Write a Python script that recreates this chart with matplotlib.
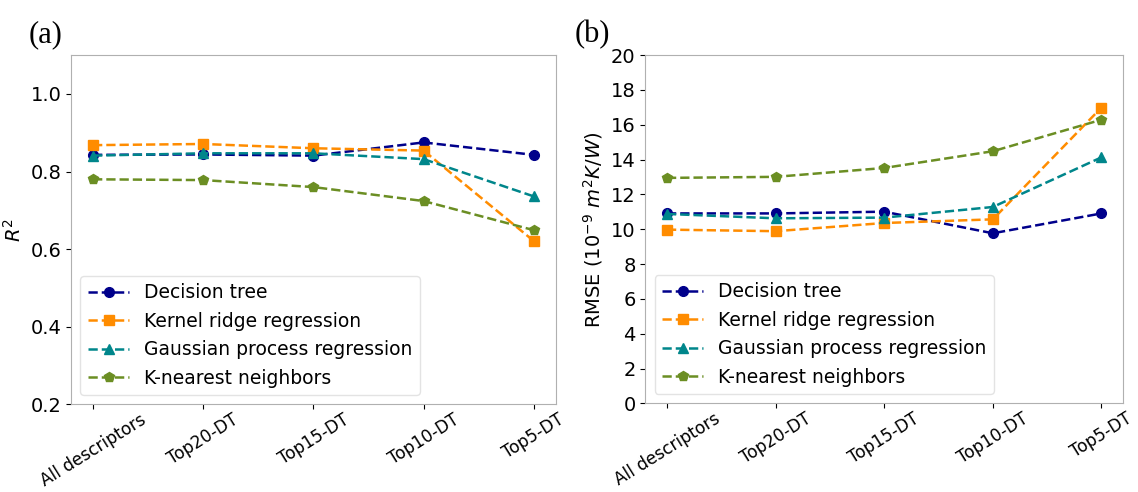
import matplotlib.pyplot as plt

categories = ["All descriptors", "Top20-DT", "Top15-DT", "Top10-DT", "Top5-DT"]
models = ["Decision tree", "Kernel ridge regression", "Gaussian process regression", "K-nearest neighbors"]

r2_dt = [0.843, 0.844, 0.841, 0.875, 0.843]
r2_krr = [0.868, 0.871, 0.860, 0.854, 0.621]
r2_gpr = [0.841, 0.847, 0.847, 0.832, 0.736]
r2_knn = [0.780, 0.778, 0.760, 0.724, 0.649]

rmse_dt = [10.91, 10.91, 11.01, 9.77, 10.91]
rmse_krr = [9.98, 9.89, 10.36, 10.57, 16.99]
rmse_gpr = [10.88, 10.63, 10.67, 11.28, 14.13]
rmse_knn = [12.95, 13.01, 13.52, 14.48, 16.29]

colors = ["#00008B", "#FF8C00", "#00868B", "#6B8E23"]
markers = ["o", "s", "^", "p"]

fig = plt.figure(figsize=(11.38, 4.92), dpi=100)
ax1 = fig.add_axes([0.0624, 0.178, 0.426, 0.710])
ax2 = fig.add_axes([0.567, 0.180, 0.420, 0.708])

x = range(len(categories))
for ax, series in [(ax1, [r2_dt, r2_krr, r2_gpr, r2_knn]),
                   (ax2, [rmse_dt, rmse_krr, rmse_gpr, rmse_knn])]:
    for vals, name, c, m in zip(series, models, colors, markers):
        ax.plot(x, vals, linestyle="--", marker=m, color=c, label=name,
                markersize=7, linewidth=1.8)
    ax.set_xticks(list(x))
    ax.set_xticklabels(categories, rotation=32, ha="center", fontsize=12.2)
    ax.tick_params(axis="y", labelsize=14)
    ax.tick_params(axis="x", pad=1)
    for s in ax.spines.values():
        s.set_edgecolor("#b0b0b0")
    ax.legend(loc="lower left", fontsize=13.5, framealpha=0.9, edgecolor="#e0e0e0",
              handlelength=2.2)

ax1.set_ylim(0.2, 1.1)
ax1.set_yticks([0.2, 0.4, 0.6, 0.8, 1.0])
ax1.set_ylabel("$R^2$", fontsize=14)

ax2.set_ylim(0, 20)
ax2.set_yticks(range(0, 21, 2))
ax2.set_ylabel("RMSE ($10^{-9}$ $m^2K/W$)", fontsize=14)

fig.text(0.025, 0.915, "(a)", fontsize=22, family="Liberation Serif")
fig.text(0.505, 0.915, "(b)", fontsize=22, family="Liberation Serif")

fig.savefig("out.png", dpi=100)
